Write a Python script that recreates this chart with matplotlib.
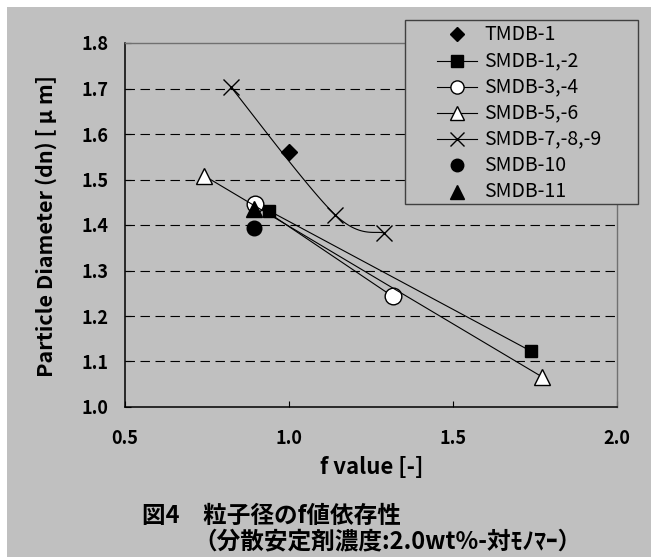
import numpy as np
import matplotlib
matplotlib.use("Agg")
import matplotlib.pyplot as plt
from matplotlib.patches import Rectangle
from matplotlib.lines import Line2D

plt.rcParams['font.family'] = ['Noto Sans CJK JP', 'DejaVu Sans']
plt.rcParams['lines.scale_dashes'] = False

# ---- data ----
tmdb1_x = [1.00]
tmdb1_y = [1.56]

smdb_1_2_x = [0.94, 1.737]
smdb_1_2_y = [1.431, 1.123]

smdb_3_4_x = [0.896, 1.316]
smdb_3_4_y = [1.447, 1.243]

smdb_5_6_x = [0.742, 1.772]
smdb_5_6_y = [1.508, 1.066]

smdb_7_8_9_x = [0.822, 1.140, 1.291]
smdb_7_8_9_y = [1.704, 1.423, 1.382]

smdb_10_x = [0.893]
smdb_10_y = [1.393]

smdb_11_x = [0.893]
smdb_11_y = [1.435]

x_ticks = [0.5, 1.0, 1.5, 2.0]
y_ticks = [1.0, 1.1, 1.2, 1.3, 1.4, 1.5, 1.6, 1.7, 1.8]

legend_labels = ['TMDB-1', 'SMDB-1,-2', 'SMDB-3,-4', 'SMDB-5,-6',
                 'SMDB-7,-8,-9', 'SMDB-10', 'SMDB-11']

W, H = 651, 557
BG = '#c0c0c0'


def fx(px):
    return px / W


def fy(py):
    return 1 - py / H


fig = plt.figure(figsize=(W / 100, H / 100), dpi=100)
fig.patch.set_facecolor('white')
fig.patches.append(Rectangle((fx(7), 0), 1, fy(7), transform=fig.transFigure,
                             facecolor=BG, edgecolor='none', zorder=-10))

ax = fig.add_axes([fx(125), fy(407), fx(617) - fx(125), fy(43) - fy(407)])
ax.set_facecolor(BG)
ax.set_xlim(0.5, 2.0)
ax.set_ylim(1.0, 1.8)
ax.set_xticks(x_ticks)
ax.set_yticks(y_ticks)
ax.set_xticklabels([f'{v:.1f}' for v in x_ticks])
ax.set_yticklabels([f'{v:.1f}' for v in y_ticks])
ax.tick_params(direction='in', length=4, width=0.8, color='black',
               labelsize=13, pad=12)
ax.tick_params(axis='x', pad=16)
for lab in ax.get_xticklabels() + ax.get_yticklabels():
    lab.set_fontweight('bold')

for sp in ('left', 'bottom'):
    ax.spines[sp].set_color('black')
    ax.spines[sp].set_linewidth(1.1)
for sp in ('top', 'right'):
    ax.spines[sp].set_color('#707070')
    ax.spines[sp].set_linewidth(1.0)

for v in y_ticks[1:-1]:
    ax.axhline(v, color='black', lw=0.8, linestyle=(0, (6.8, 4)), zorder=1)

lw = 0.8
ax.plot(tmdb1_x, tmdb1_y, linestyle='none', marker='D', ms=8, color='black', zorder=5)
ax.plot(smdb_1_2_x, smdb_1_2_y, '-', lw=lw, color='black', marker='s', ms=9,
        mfc='black', mec='black', zorder=4)
ax.plot(smdb_3_4_x, smdb_3_4_y, '-', lw=lw, color='black', marker='o', ms=12,
        mfc='white', mec='black', mew=1.0, zorder=4)
ax.plot(smdb_5_6_x, smdb_5_6_y, '-', lw=lw, color='black', marker='^', ms=12,
        mfc='white', mec='black', mew=1.0, zorder=4)

# smoothed curve through the SMDB-7,-8,-9 points (cubic Bezier, Catmull-Rom tangents)
fig.canvas.draw()
pts = ax.transData.transform(np.column_stack([smdb_7_8_9_x, smdb_7_8_9_y]))
n = len(pts)
curve = []
t = np.linspace(0, 1, 40)[:, None]
for i in range(n - 1):
    p0 = pts[max(i - 1, 0)]
    p1 = pts[i]
    p2 = pts[i + 1]
    p3 = pts[min(i + 2, n - 1)]
    c1 = p1 + (p2 - p0) / 6
    c2 = p2 - (p3 - p1) / 6
    seg = ((1 - t) ** 3) * p1 + 3 * ((1 - t) ** 2) * t * c1 + 3 * (1 - t) * t ** 2 * c2 + t ** 3 * p2
    curve.append(seg)
curve = ax.transData.inverted().transform(np.vstack(curve))
ax.plot(curve[:, 0], curve[:, 1], '-', lw=lw, color='black', zorder=3)
ax.plot(smdb_7_8_9_x, smdb_7_8_9_y, linestyle='none', marker='x', ms=12,
        mew=1.0, color='black', zorder=4)

ax.plot(smdb_10_x, smdb_10_y, linestyle='none', marker='o', ms=10.5,
        color='black', zorder=4)
ax.plot(smdb_11_x, smdb_11_y, linestyle='none', marker='^', ms=11,
        color='black', zorder=6)

# legend box with one row per series
fig.patches.append(Rectangle((fx(405), fy(204)), fx(638) - fx(405), fy(20) - fy(204),
                             transform=fig.transFigure, facecolor=BG,
                             edgecolor='#404040', lw=1.0, zorder=20))
legend_lines = [False, True, True, True, True, False, False]
legend_markers = [
    dict(marker='D', ms=7, color='black'),
    dict(marker='s', ms=8, color='black'),
    dict(marker='o', ms=9.5, color='black', mfc='white', mec='black'),
    dict(marker='^', ms=10, color='black', mfc='white', mec='black'),
    dict(marker='x', ms=10, color='black'),
    dict(marker='o', ms=9, color='black'),
    dict(marker='^', ms=9.5, color='black'),
]
row0, row_step = 34.3, 26.2
for i, label in enumerate(legend_labels):
    yy = fy(row0 + i * row_step)
    if legend_lines[i]:
        fig.add_artist(Line2D([fx(437), fx(477)], [yy, yy], transform=fig.transFigure,
                              lw=lw, color='black', zorder=21))
    fig.add_artist(Line2D([fx(457)], [yy], transform=fig.transFigure,
                          linestyle='none', zorder=22, **legend_markers[i]))
    fig.text(fx(484), yy, label, ha='left', va='center', fontsize=14, zorder=22)

# axis labels
fig.text(fx(372), fy(467), 'f value [-]', ha='center', va='center',
         fontsize=16, fontweight='bold')
fig.text(fx(46), fy(226), 'Particle Diameter (dn) [ μ m]', ha='center',
         va='center', rotation=90, fontsize=15.5, fontweight='bold')

# caption
fig.text(fx(142), fy(516), '図4　粒子径のf値依存性', ha='left', va='center',
         fontsize=17, fontweight='bold')
fig.text(fx(193), fy(541), '（分散安定剤濃度:2.0wt%-対ﾓﾉﾏｰ）', ha='left',
         va='center', fontsize=17, fontweight='bold')

fig.savefig('out.png', dpi=100, facecolor=fig.get_facecolor())
